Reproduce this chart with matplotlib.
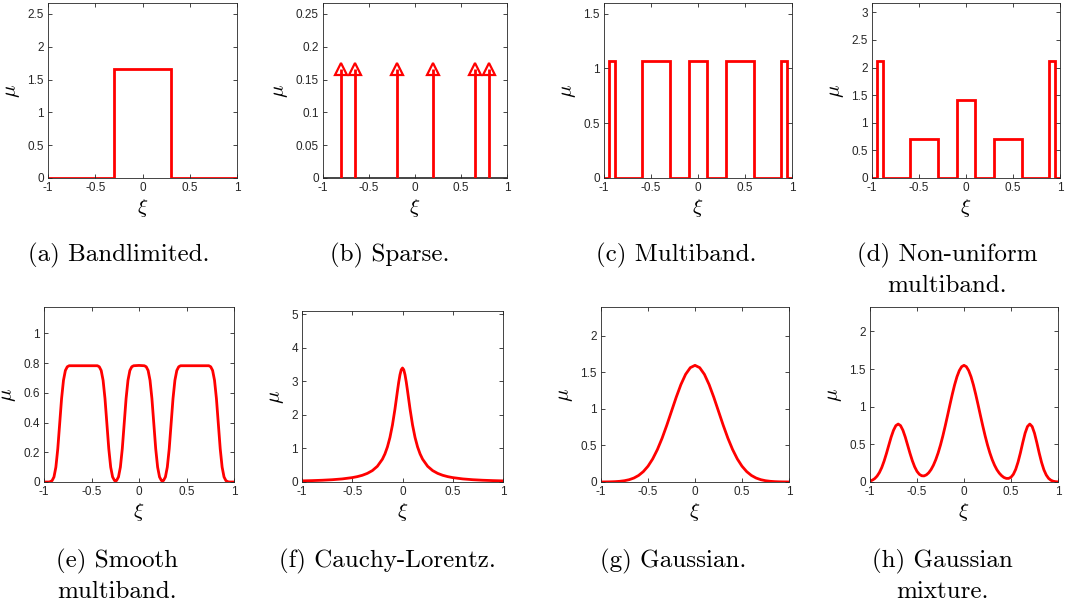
import numpy as np
import matplotlib
matplotlib.use("Agg")
import matplotlib.pyplot as plt

plt.rcParams["font.family"] = "Liberation Sans"
plt.rcParams["mathtext.fontset"] = "cm"
plt.rcParams["axes.unicode_minus"] = False

# ---- data ----
# (a) bandlimited: step levels between edges
band_edges = [-1, -0.3, 0.3, 1]
band_levels = [0, 1.667, 0]

# (b) sparse: spike positions and weights
spike_x = [-0.8, -0.65, -0.2, 0.2, 0.65, 0.8]
spike_h = [0.1667, 0.1667, 0.1667, 0.1667, 0.1667, 0.1667]

# (c) multiband
multi_edges = [-1, -0.95, -0.88, -0.6, -0.3, -0.1, 0.1, 0.3, 0.6, 0.88, 0.95, 1]
multi_levels = [0, 1.064, 0, 1.064, 0, 1.064, 0, 1.064, 0, 1.064, 0]

# (d) non-uniform multiband
nonuni_edges = [-1, -0.95, -0.88, -0.6, -0.3, -0.1, 0.1, 0.3, 0.6, 0.88, 0.95, 1]
nonuni_levels = [0, 2.113, 0, 0.704, 0, 1.408, 0, 0.704, 0, 2.113, 0]

# (e) smooth multiband
smooth_x = [-1.0, -0.95, -0.935, -0.915, -0.895, -0.875, -0.855, -0.835, -0.815,
            -0.795, -0.775, -0.755, -0.735, -0.438, -0.418, -0.398, -0.378, -0.358,
            -0.338, -0.318, -0.298, -0.278, -0.258, -0.247, -0.236, -0.216, -0.196,
            -0.176, -0.156, -0.136, -0.116, -0.096, -0.076, -0.056, 0.0,
            0.056, 0.076, 0.096, 0.116, 0.136, 0.156, 0.176, 0.196, 0.216, 0.236,
            0.247, 0.258, 0.278, 0.298, 0.318, 0.338, 0.358, 0.378, 0.398, 0.418,
            0.438, 0.735, 0.755, 0.775, 0.795, 0.815, 0.835, 0.855, 0.875, 0.895,
            0.915, 0.935, 0.95, 1.0]
smooth_y = [0.0, 0.0, 0.002, 0.009, 0.034, 0.100, 0.223, 0.392, 0.561,
            0.684, 0.750, 0.775, 0.782, 0.782, 0.775, 0.750, 0.684, 0.561,
            0.392, 0.223, 0.100, 0.034, 0.010, 0.007, 0.010, 0.034, 0.100,
            0.223, 0.392, 0.561, 0.684, 0.750, 0.775, 0.782, 0.784,
            0.782, 0.775, 0.750, 0.684, 0.561, 0.392, 0.223, 0.100, 0.034, 0.010,
            0.007, 0.010, 0.034, 0.100, 0.223, 0.392, 0.561, 0.684, 0.750, 0.775,
            0.782, 0.782, 0.775, 0.750, 0.684, 0.561, 0.392, 0.223, 0.100, 0.034,
            0.009, 0.002, 0.0, 0.0]

# (f) Cauchy-Lorentz
cauchy_x = [-1.0, -0.9, -0.8, -0.7, -0.6, -0.5, -0.45, -0.4, -0.35, -0.3, -0.25,
            -0.2, -0.175, -0.15, -0.125, -0.1, -0.075, -0.05, -0.0375, -0.025,
            -0.0125, 0.0, 0.0125, 0.025, 0.0375, 0.05, 0.075, 0.1, 0.125, 0.15,
            0.175, 0.2, 0.25, 0.3, 0.35, 0.4, 0.45, 0.5, 0.6, 0.7, 0.8, 0.9, 1.0]
cauchy_y = [0.0337, 0.0415, 0.0523, 0.068, 0.0919, 0.131, 0.160, 0.200, 0.257,
            0.340, 0.469, 0.680, 0.837, 1.046, 1.327, 1.700, 2.176, 2.720, 2.981,
            3.200, 3.348, 3.400, 3.348, 3.200, 2.981, 2.720, 2.176, 1.700, 1.327,
            1.046, 0.837, 0.680, 0.469, 0.340, 0.257, 0.200, 0.160, 0.131, 0.0919,
            0.068, 0.0523, 0.0415, 0.0337]

# (g) Gaussian, sampled every 0.05 on [-1, 1]
gauss_x = np.linspace(-1, 1, 41)
gauss_y = [0.0005, 0.0012, 0.0024, 0.0049, 0.0095, 0.0177, 0.0317, 0.0543, 0.0896,
           0.142, 0.216, 0.316, 0.444, 0.599, 0.777, 0.968, 1.159, 1.333, 1.473,
           1.564, 1.596, 1.564, 1.473, 1.333, 1.159, 0.968, 0.777, 0.599, 0.444,
           0.316, 0.216, 0.142, 0.0896, 0.0543, 0.0317, 0.0177, 0.0095, 0.0049,
           0.0024, 0.0012, 0.0005]

# (h) Gaussian mixture, sampled every 0.025 on [-1, 1]
mix_x = np.linspace(-1, 1, 81)
mix_y = [0.013, 0.025, 0.045, 0.078, 0.126, 0.192, 0.278, 0.379, 0.489, 0.597,
         0.687, 0.749, 0.770, 0.749, 0.688, 0.598, 0.491, 0.383, 0.284, 0.202,
         0.141, 0.102, 0.083, 0.081, 0.095, 0.123, 0.166, 0.224, 0.298, 0.387,
         0.492, 0.612, 0.744, 0.883, 1.025, 1.163, 1.290, 1.398, 1.480, 1.532,
         1.550, 1.532, 1.480, 1.398, 1.290, 1.163, 1.025, 0.883, 0.744, 0.612,
         0.492, 0.387, 0.297, 0.223, 0.163, 0.118, 0.084, 0.060, 0.048, 0.048,
         0.064, 0.102, 0.168, 0.265, 0.387, 0.523, 0.649, 0.737, 0.770, 0.737,
         0.648, 0.522, 0.385, 0.261, 0.162, 0.093, 0.048, 0.023, 0.010, 0.004,
         0.002]

captions = [["(a) Bandlimited."], ["(b) Sparse."], ["(c) Multiband."],
            ["(d) Non-uniform", "multiband."],
            ["(e) Smooth", "multiband."], ["(f) Cauchy-Lorentz."],
            ["(g) Gaussian."], ["(h) Gaussian", "mixture."]]
y_tops = [2.667, 0.2667, 1.596, 3.17, 1.177, 5.1, 2.394, 2.325]
y_steps = [0.5, 0.05, 0.5, 0.5, 0.2, 1, 0.5, 0.5]

# ---- layout (pixels: left, top, right, bottom) ----
W, H = 1082, 605
boxes = [(48, 3, 237, 178), (323, 3, 507, 178), (604, 3, 792, 178), (872, 3, 1060, 178),
         (44, 307, 234, 482), (302, 311, 503, 482), (601, 307, 789, 482), (870, 307, 1058, 482)]
cap_x = [119, 390, 676, 947, 117, 387, 673, 942]
cap_y = [261, 567]

RED = "#ff0000"
GRAY = "#262626"
LW = 2.0

fig = plt.figure(figsize=(W / 100, H / 100), dpi=100)

axes = []
for i, (l, t, r, b) in enumerate(boxes):
    ax = fig.add_axes([l / W, 1 - b / H, (r - l) / W, (b - t) / H])
    axes.append(ax)

axes[0].stairs(band_levels, band_edges, color=RED, lw=LW, baseline=None)

ax = axes[1]
ax.axhline(0, color=GRAY, lw=1.2, zorder=1)
ax.vlines(spike_x, 0, spike_h, color=RED, lw=LW, zorder=2)
ax.plot(spike_x, spike_h, ls="none", marker="^", ms=9, mfc="none",
        mec=RED, mew=1.6, zorder=3, clip_on=False)

axes[2].stairs(multi_levels, multi_edges, color=RED, lw=LW, baseline=None)
axes[3].stairs(nonuni_levels, nonuni_edges, color=RED, lw=LW, baseline=None)
axes[4].plot(smooth_x, smooth_y, color=RED, lw=LW)
axes[5].plot(cauchy_x, cauchy_y, color=RED, lw=LW)
axes[6].plot(gauss_x, gauss_y, color=RED, lw=LW)
axes[7].plot(mix_x, mix_y, color=RED, lw=LW)

for i, ax in enumerate(axes):
    ax.set_xlim(-1, 1)
    ax.set_ylim(0, y_tops[i])
    xt = [-1, -0.5, 0, 0.5, 1]
    ax.set_xticks(xt)
    ax.set_xticklabels([f"{v:g}" for v in xt])
    yt = np.arange(0, y_tops[i] + 1e-9, y_steps[i])
    ax.set_yticks(yt)
    ax.set_yticklabels([f"{round(v, 3):g}" for v in yt])
    ax.tick_params(direction="in", top=True, right=True, length=3, width=0.6,
                   labelsize=8.5, colors=GRAY, pad=3)
    for sp in ax.spines.values():
        sp.set_linewidth(0.6)
        sp.set_color(GRAY)
    ax.set_xlabel(r"$\xi$", fontsize=15, labelpad=2)
    ax.set_ylabel(r"$\mu$", fontsize=15, labelpad=4)

    row = 0 if i < 4 else 1
    for k, line in enumerate(captions[i]):
        fig.text(cap_x[i] / W, 1 - (cap_y[row] + 31 * k) / H, line,
                 ha="center", va="baseline", fontsize=18, family="cmr10")

fig.savefig("out.png", dpi=100)
